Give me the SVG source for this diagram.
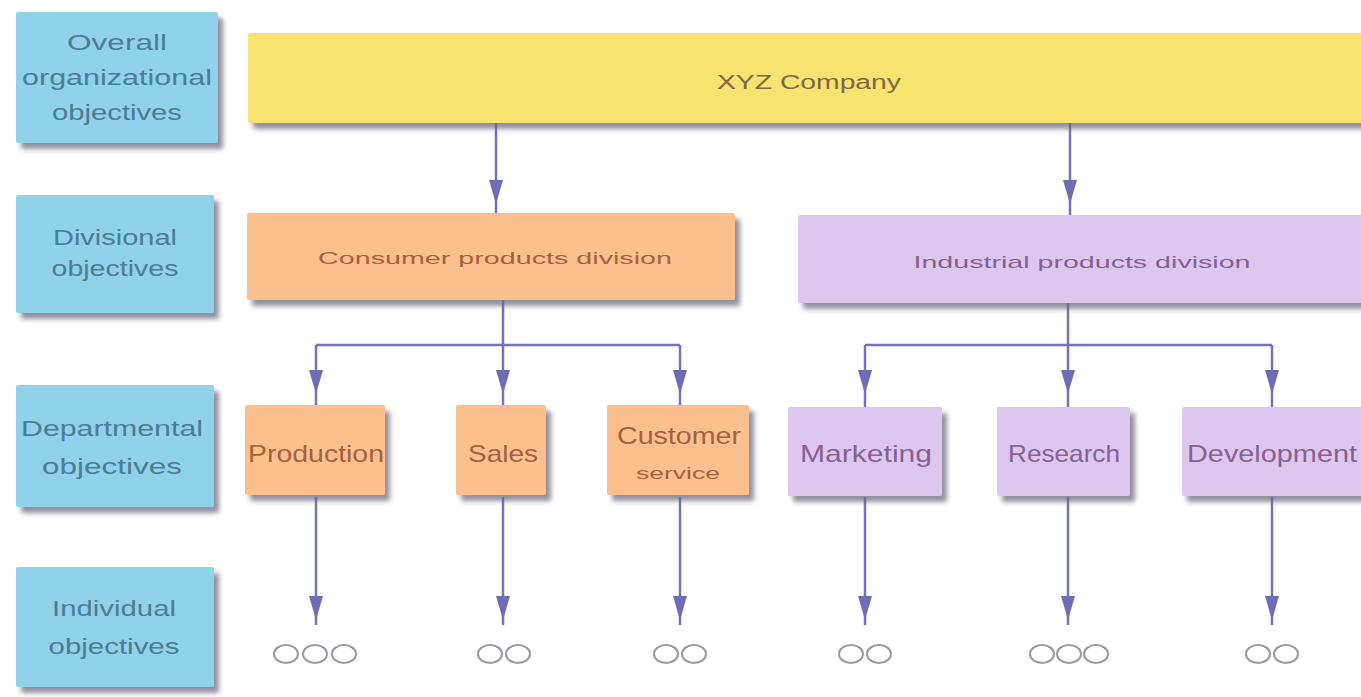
<svg xmlns="http://www.w3.org/2000/svg" width="1361" height="697" viewBox="0 0 1361 697">
<defs>
<filter id="sh" x="-10%" y="-10%" width="130%" height="140%">
<feDropShadow dx="5" dy="6" stdDeviation="2.5" flood-color="#6d6a80" flood-opacity="0.75"/>
</filter>
</defs>
<style>
.lbl{fill:#8fd2ea;filter:url(#sh)}
.lt{font-family:"Liberation Sans",Arial,sans-serif;font-size:22px;fill:#4d7d93;text-anchor:middle}
.yel{fill:#f6e46e;filter:url(#sh)}
.pea{fill:#fcc08f;filter:url(#sh)}
.lav{fill:#dcc7ef;filter:url(#sh)}
.yt{font-family:"Liberation Sans",Arial,sans-serif;font-size:20px;fill:#7d6848;text-anchor:middle}
.dt{font-family:"Liberation Sans",Arial,sans-serif;font-size:17px;text-anchor:middle}
.pt{fill:#a8603f}
.vt{fill:#8a6092}
.nt{font-family:"Liberation Sans",Arial,sans-serif;font-size:24px;text-anchor:middle}
.ln{stroke:#7472c0;stroke-width:2.5;fill:none}
.ah{fill:#6f6cb8}
.ind{fill:none;stroke:#9a98a8;stroke-width:2}
</style>

<g id="row-labels">
<g id="lbl-overall"><rect class="lbl" x="16" y="12" width="202" height="131" rx="2"/>
<text class="lt" x="117" y="50" textLength="100" lengthAdjust="spacingAndGlyphs">Overall</text>
<text class="lt" x="117" y="85" textLength="190" lengthAdjust="spacingAndGlyphs">organizational</text>
<text class="lt" x="117" y="120" textLength="130" lengthAdjust="spacingAndGlyphs">objectives</text></g>
<g id="lbl-divisional"><rect class="lbl" x="16" y="195" width="198" height="118" rx="2"/>
<text class="lt" x="115" y="245" textLength="124" lengthAdjust="spacingAndGlyphs">Divisional</text>
<text class="lt" x="115" y="276" textLength="127" lengthAdjust="spacingAndGlyphs">objectives</text></g>
<g id="lbl-departmental"><rect class="lbl" x="16" y="385" width="198" height="122" rx="2"/>
<text class="lt" x="112" y="436" textLength="182" lengthAdjust="spacingAndGlyphs">Departmental</text>
<text class="lt" x="112" y="474" textLength="140" lengthAdjust="spacingAndGlyphs">objectives</text></g>
<g id="lbl-individual"><rect class="lbl" x="16" y="567" width="198" height="120" rx="2"/>
<text class="lt" x="114" y="616" textLength="124" lengthAdjust="spacingAndGlyphs">Individual</text>
<text class="lt" x="114" y="654" textLength="131" lengthAdjust="spacingAndGlyphs">objectives</text></g>
</g>

<g id="connectors">
<line class="ln" x1="496" y1="123" x2="496" y2="213"/>
<line class="ln" x1="1070" y1="123" x2="1070" y2="215"/>
<line class="ln" x1="503" y1="300" x2="503" y2="345"/>
<line class="ln" x1="316" y1="345" x2="680" y2="345"/>
<line class="ln" x1="316" y1="345" x2="316" y2="405"/>
<line class="ln" x1="503" y1="345" x2="503" y2="405"/>
<line class="ln" x1="680" y1="345" x2="680" y2="405"/>
<line class="ln" x1="1068" y1="303" x2="1068" y2="345"/>
<line class="ln" x1="865" y1="345" x2="1272" y2="345"/>
<line class="ln" x1="865" y1="345" x2="865" y2="407"/>
<line class="ln" x1="1068" y1="345" x2="1068" y2="407"/>
<line class="ln" x1="1272" y1="345" x2="1272" y2="407"/>
<line class="ln" x1="316" y1="497" x2="316" y2="625"/>
<line class="ln" x1="503" y1="497" x2="503" y2="625"/>
<line class="ln" x1="680" y1="497" x2="680" y2="625"/>
<line class="ln" x1="865" y1="497" x2="865" y2="625"/>
<line class="ln" x1="1068" y1="497" x2="1068" y2="625"/>
<line class="ln" x1="1272" y1="497" x2="1272" y2="625"/>
<g class="ah">
<path d="M489,180 L503,180 L496,204 Z"/>
<path d="M1063,180 L1077,180 L1070,204 Z"/>
<path d="M309,370 L323,370 L316,394 Z"/>
<path d="M496,370 L510,370 L503,394 Z"/>
<path d="M673,370 L687,370 L680,394 Z"/>
<path d="M858,370 L872,370 L865,394 Z"/>
<path d="M1061,370 L1075,370 L1068,394 Z"/>
<path d="M1265,370 L1279,370 L1272,394 Z"/>
<path d="M309,596 L323,596 L316,620 Z"/>
<path d="M496,596 L510,596 L503,620 Z"/>
<path d="M673,596 L687,596 L680,620 Z"/>
<path d="M858,596 L872,596 L865,620 Z"/>
<path d="M1061,596 L1075,596 L1068,620 Z"/>
<path d="M1265,596 L1279,596 L1272,620 Z"/>
</g>
</g>

<g id="xyz-company"><rect class="yel" x="248" y="33" width="1120" height="90" rx="2"/>
<text class="yt" x="809" y="89" textLength="184" lengthAdjust="spacingAndGlyphs">XYZ Company</text></g>

<g id="consumer-division"><rect class="pea" x="247" y="213" width="488" height="87" rx="2"/>
<text class="dt pt" x="495" y="264" textLength="354" lengthAdjust="spacingAndGlyphs">Consumer products division</text></g>
<g id="industrial-division"><rect class="lav" x="798" y="215" width="570" height="88" rx="2"/>
<text class="dt vt" x="1082" y="268" textLength="337" lengthAdjust="spacingAndGlyphs">Industrial products division</text></g>

<g id="production"><rect class="pea" x="245" y="405" width="140" height="90" rx="2"/>
<text class="nt pt" x="316" y="462" textLength="136" lengthAdjust="spacingAndGlyphs">Production</text></g>
<g id="sales"><rect class="pea" x="456" y="405" width="90" height="90" rx="2"/>
<text class="nt pt" x="503" y="462" textLength="70" lengthAdjust="spacingAndGlyphs">Sales</text></g>
<g id="customer-service"><rect class="pea" x="607" y="405" width="142" height="90" rx="2"/>
<text class="nt pt" x="679" y="444" textLength="124" lengthAdjust="spacingAndGlyphs">Customer</text>
<text class="dt pt" x="678" y="479" textLength="84" lengthAdjust="spacingAndGlyphs">service</text></g>
<g id="marketing"><rect class="lav" x="788" y="407" width="154" height="89" rx="2"/>
<text class="nt vt" x="866" y="462" textLength="132" lengthAdjust="spacingAndGlyphs">Marketing</text></g>
<g id="research"><rect class="lav" x="997" y="407" width="133" height="89" rx="2"/>
<text class="nt vt" x="1064" y="462" textLength="112" lengthAdjust="spacingAndGlyphs">Research</text></g>
<g id="development"><rect class="lav" x="1182" y="407" width="186" height="89" rx="2"/>
<text class="nt vt" x="1272" y="462" textLength="170" lengthAdjust="spacingAndGlyphs">Development</text></g>

<g id="individuals">
<g id="ind-production"><ellipse class="ind" cx="286" cy="654" rx="12" ry="9"/><ellipse class="ind" cx="315" cy="654" rx="12" ry="9"/><ellipse class="ind" cx="344" cy="654" rx="12" ry="9"/></g>
<g id="ind-sales"><ellipse class="ind" cx="490" cy="654" rx="12" ry="9"/><ellipse class="ind" cx="518" cy="654" rx="12" ry="9"/></g>
<g id="ind-customer"><ellipse class="ind" cx="666" cy="654" rx="12" ry="9"/><ellipse class="ind" cx="694" cy="654" rx="12" ry="9"/></g>
<g id="ind-marketing"><ellipse class="ind" cx="851" cy="654" rx="12" ry="9"/><ellipse class="ind" cx="879" cy="654" rx="12" ry="9"/></g>
<g id="ind-research"><ellipse class="ind" cx="1042" cy="654" rx="12" ry="9"/><ellipse class="ind" cx="1069" cy="654" rx="12" ry="9"/><ellipse class="ind" cx="1096" cy="654" rx="12" ry="9"/></g>
<g id="ind-development"><ellipse class="ind" cx="1258" cy="654" rx="12" ry="9"/><ellipse class="ind" cx="1286" cy="654" rx="12" ry="9"/></g>
</g>
</svg>
